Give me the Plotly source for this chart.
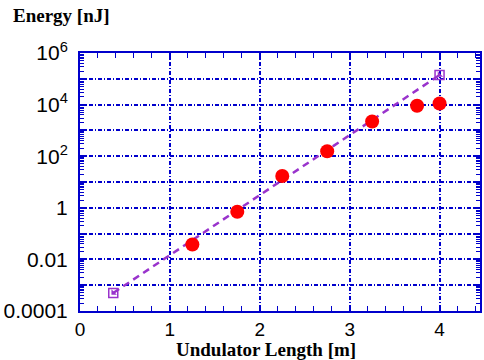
import plotly.graph_objects as go

# Data
length_m = [1.25, 1.75, 2.25, 2.75, 3.25, 3.75, 4.0]
energy_nj = [0.038, 0.7, 17, 155, 2200, 9000, 11000]
fit_x = [0.37, 4.0]
fit_y = [5e-4, 1.4e5]
ytick_vals = [1e-4, 1e-3, 1e-2, 1e-1, 1, 1e1, 1e2, 1e3, 1e4, 1e5, 1e6]
ytick_text = ["0.0001", "", "0.01", "", "1", "", "10<sup>2</sup>", "", "10<sup>4</sup>", "", "10<sup>6</sup>"]
xtick_vals = [0, 1, 2, 3, 4]

purple = "#9933cc"
blue = "#0000cc"

fig = go.Figure()
fig.add_trace(go.Scatter(x=fit_x, y=fit_y, mode="lines",
                         line=dict(color=purple, width=2.5, dash="7px,5px"),
                         showlegend=False, hoverinfo="skip"))
fig.add_trace(go.Scatter(x=fit_x, y=fit_y, mode="markers",
                         marker=dict(symbol="square-open", size=9, color=purple, line=dict(width=1.5, color=purple)),
                         showlegend=False))
fig.add_trace(go.Scatter(x=fit_x, y=fit_y, mode="markers",
                         marker=dict(symbol="triangle-sw", size=6, color=purple, line=dict(width=0)),
                         showlegend=False))
fig.add_trace(go.Scatter(x=length_m, y=energy_nj, mode="markers",
                         marker=dict(symbol="circle", size=14, color="#ff0000", line=dict(width=0)),
                         showlegend=False))

fig.update_xaxes(range=[0, 4.45], tickvals=xtick_vals, ticks="inside", ticklen=6,
                 tickcolor=blue, tickwidth=2,
                 showline=True, linecolor=blue, linewidth=2, mirror="allticks",
                 showgrid=True, gridcolor=blue, griddash="4px,2px,1px,2px", gridwidth=1.5,
                 zeroline=False,
                 minor=dict(dtick=0.2, ticks="inside", ticklen=5, tickcolor=blue, tickwidth=1, showgrid=False),
                 ticklabelstandoff=0,
                 tickfont=dict(family="Liberation Sans, Arial", size=19, color="black"))
fig.update_yaxes(type="log", range=[-4, 6], tickvals=ytick_vals, ticktext=ytick_text,
                 ticks="inside", ticklen=6, tickcolor=blue, tickwidth=2,
                 showline=True, linecolor=blue, linewidth=2, mirror="allticks",
                 showgrid=True, gridcolor=blue, griddash="4px,2px,1px,2px", gridwidth=1.5,
                 minor=dict(dtick="D1", ticks="inside", ticklen=4, tickcolor=blue, tickwidth=1,
                            showgrid=False),
                 ticklabelstandoff=6,
                 tickfont=dict(family="Liberation Sans, Arial", size=21, color="black"))

fig.add_annotation(text="<b>Energy [nJ]</b>", xref="paper", yref="paper", x=-0.172, y=1.147,
                   xanchor="left", yanchor="middle", showarrow=False,
                   font=dict(family="Liberation Serif, Times New Roman", size=19, color="black"))
fig.add_annotation(text="<b>Undulator Length [m]</b>", xref="paper", yref="paper", x=0.465, y=-0.15,
                   xanchor="center", yanchor="middle", showarrow=False,
                   font=dict(family="Liberation Serif, Times New Roman", size=19, color="black"))

fig.update_layout(width=484, height=360, margin=dict(l=80, r=2, t=53, b=49),
                  plot_bgcolor="white", paper_bgcolor="white")
fig.write_html("out.html")
